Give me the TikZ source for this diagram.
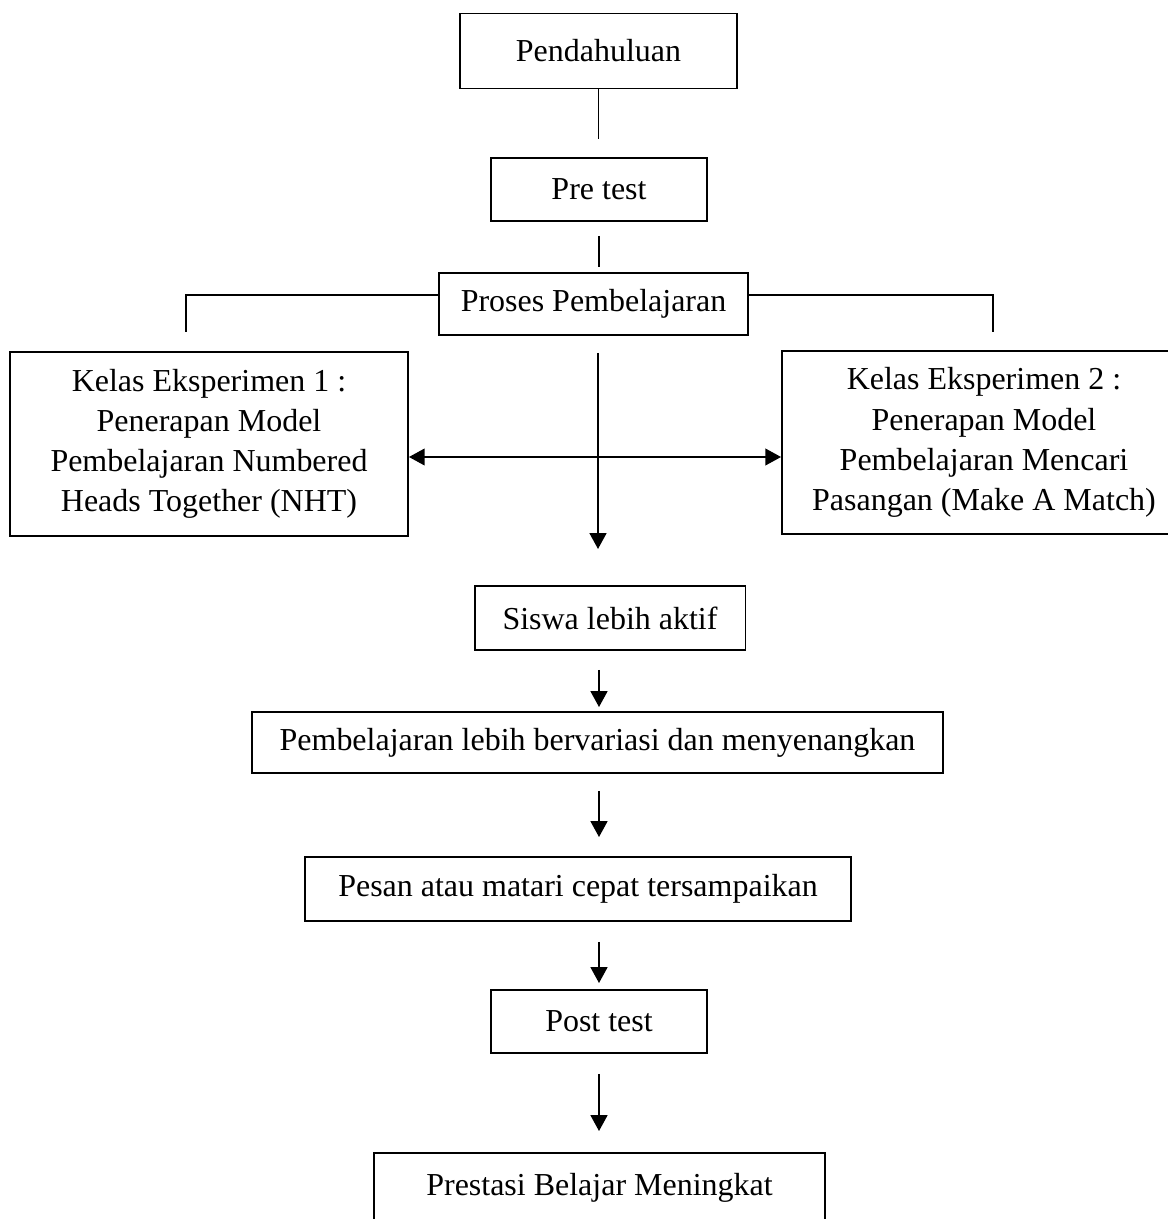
\documentclass[tikz,border=0pt]{standalone}
\usepackage{fontspec}
\setmainfont{Liberation Serif}
\usetikzlibrary{arrows.meta}

\tikzset{
  box/.style={draw, line width=1.1pt, rectangle, inner sep=0pt, align=center},
  tip/.style={Triangle[width=9.5pt,length=9pt]},
  arr/.style={line width=1.2pt, -{Triangle[width=9.5pt,length=9pt]}},
  link/.style={line width=1.1pt}
}

\begin{document}
\begin{tikzpicture}[x=0.02cm, y=-0.02cm, font=\fontsize{18.2}{22.9}\selectfont]
    \useasboundingbox (0,0) rectangle (1168,1219);
    % boxes
    \node[box, minimum width=5.54cm, minimum height=1.5cm] (pend) at (598.5,51) {Pendahuluan};
    \node[box, minimum width=4.32cm, minimum height=1.26cm] (pre) at (599,189.5) {Pre test};
    \node[box, minimum width=6.18cm, minimum height=1.24cm] (proses) at (593.5,304) {Proses Pembelajaran};
    \node[box, minimum width=7.96cm, minimum height=3.68cm] (k1) at (209,444)
        {Kelas Eksperimen 1 :\\Penerapan Model\\Pembelajaran Numbered\\Heads Together (NHT)};
    \node[box, minimum width=8.08cm, minimum height=3.66cm] (k2) at (984,442.5)
        {Kelas Eksperimen 2 :\\Penerapan Model\\Pembelajaran Mencari\\Pasangan (Make A Match)};
    \node[box, minimum width=5.42cm, minimum height=1.28cm] (siswa) at (610,618) {Siswa lebih aktif};
    \node[box, minimum width=13.82cm, minimum height=1.22cm] (pemb) at (597.5,742.5) {Pembelajaran lebih bervariasi dan menyenangkan};
    \node[box, minimum width=10.93cm, minimum height=1.28cm] (pesan) at (578,889) {Pesan atau matari cepat tersampaikan};
    \node[box, minimum width=4.32cm, minimum height=1.26cm] (post) at (599,1021.5) {Post test};
    \node[box, minimum width=9.02cm, minimum height=1.4cm] (prestasi) at (599.5,1188) {Prestasi Belajar Meningkat};

    \coordinate (axis) at (599,0);
    \coordinate (bar) at (0,295);
    \coordinate (mid) at (598,457);
    \coordinate (lstub) at (186,332);
    \coordinate (rstub) at (993,332);
    \coordinate (vtop) at (598,353);
    \coordinate (vbot) at (598,549);

    % connectors
    \draw[link, shorten >=0.36cm] (pend.south) -- (pre.north -| pend.south);
    \draw[link, shorten <=0.28cm, shorten >=0.1cm] (pre.south) -- (proses.north -| pre.south);
    \draw[link] (proses.west |- bar) -| (lstub);
    \draw[link] (proses.east |- bar) -| (rstub);
    \draw[arr] (vtop) -- (vbot);
    \draw[line width=1.2pt, {Triangle[width=9.5pt,length=9pt]}-{Triangle[width=9.5pt,length=9pt]}] (k1.east |- mid) -- (k2.west |- mid);
    \draw[arr, shorten <=0.38cm, shorten >=0.08cm] (siswa.south -| axis) -- (pemb.north -| axis);
    \draw[arr, shorten <=0.34cm, shorten >=0.38cm] (pemb.south -| axis) -- (pesan.north -| axis);
    \draw[arr, shorten <=0.4cm, shorten >=0.12cm] (pesan.south -| axis) -- (post.north -| axis);
    \draw[arr, shorten <=0.4cm, shorten >=0.42cm] (post.south -| axis) -- (prestasi.north -| axis);
\end{tikzpicture}
\end{document}
